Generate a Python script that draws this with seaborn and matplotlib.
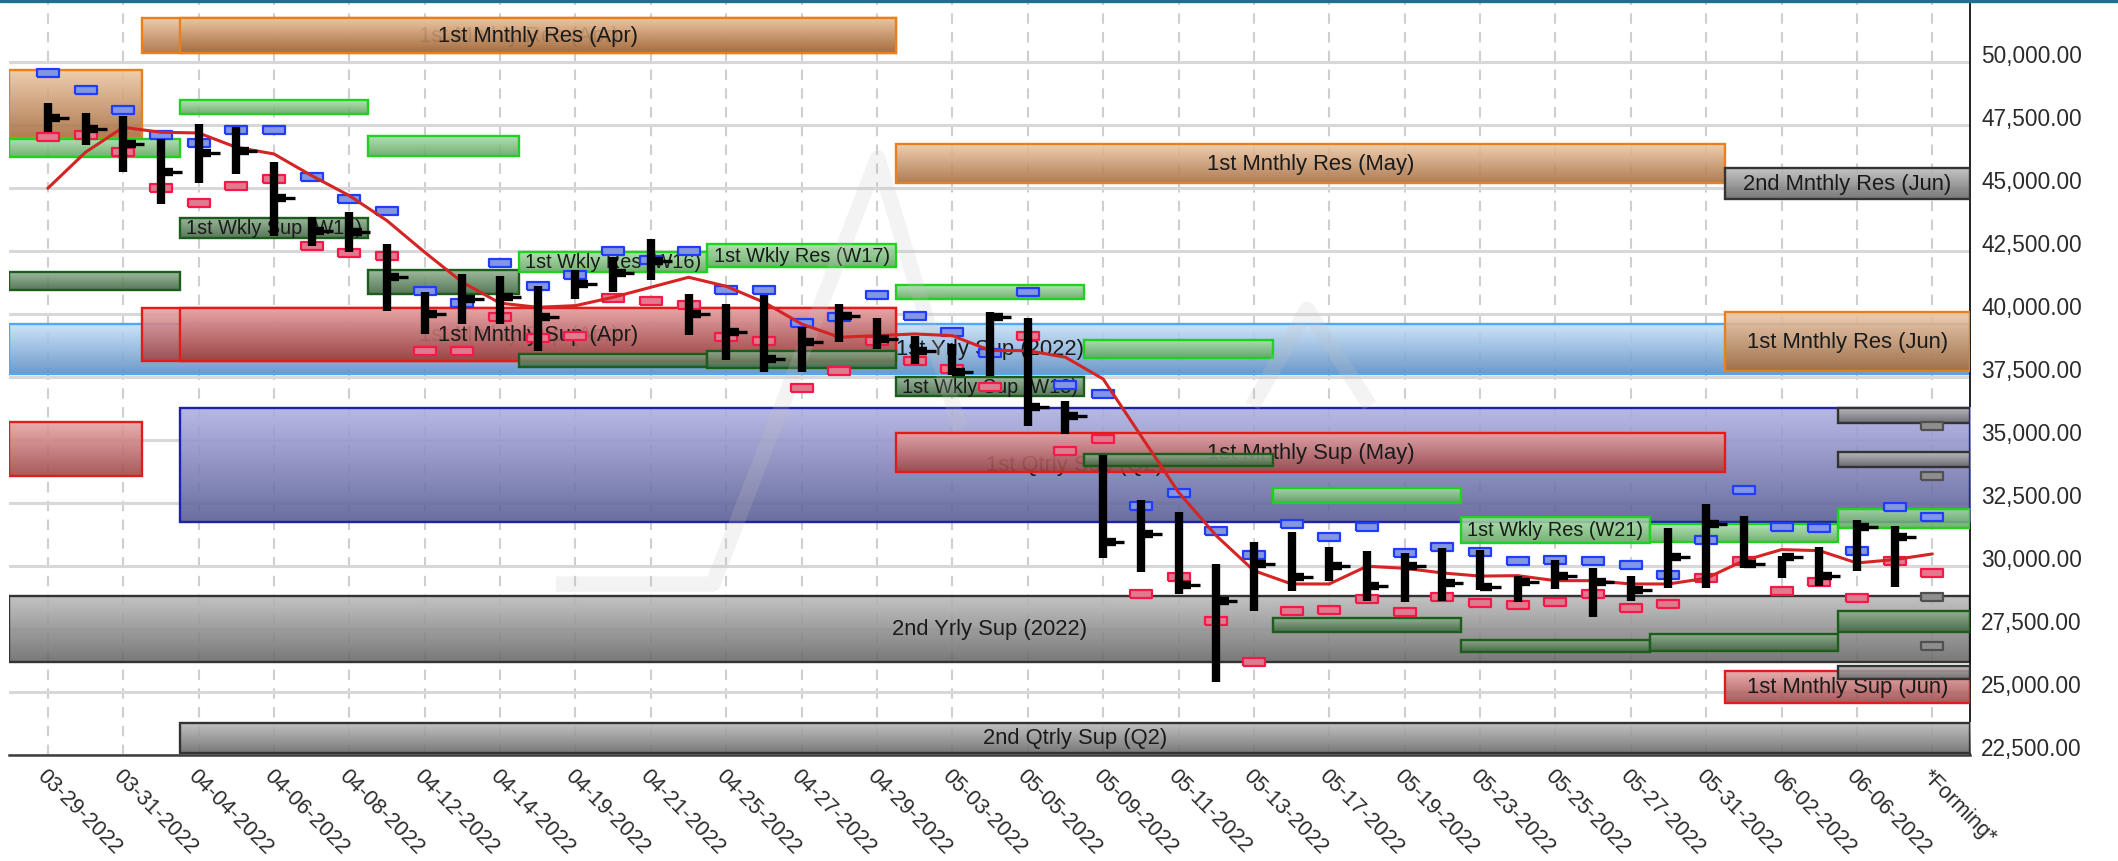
import numpy as np
import pandas as pd
import matplotlib
matplotlib.use("Agg")
import matplotlib.pyplot as plt
import seaborn as sns
from matplotlib.colors import LinearSegmentedColormap
from matplotlib.patches import Rectangle
from matplotlib.lines import Line2D
from matplotlib import font_manager

# ---------------- data ----------------
tick_labels = ["03-29-2022", "03-31-2022", "04-04-2022", "04-06-2022", "04-08-2022",
               "04-12-2022", "04-14-2022", "04-19-2022", "04-21-2022", "04-25-2022",
               "04-27-2022", "04-29-2022", "05-03-2022", "05-05-2022", "05-09-2022",
               "05-11-2022", "05-13-2022", "05-17-2022", "05-19-2022", "05-23-2022",
               "05-25-2022", "05-27-2022", "05-31-2022", "06-02-2022", "06-06-2022",
               "*Forming*"]

bar_high = [48373, 47976, 47870, 46945, 47540, 47408, 46044, 43862, 44060, 42778,
            40862, 41588, 41497, 41100, 41764, 42250, 42963, 40794, 40398, 40755,
            39473, 40398, 39830, 39140, 38810, 40067, 39830, 36561, 34418, 32620,
            32131, 30070, 30966, 31363, 30741, 30609, 30505, 30704, 30651, 29616,
            30254, 29910, 29616, 31496, 32461, 31997, 30413, 30741, 31839, 31576]
bar_low = [47210, 46706, 45647, 44365, 45199, 45556, 43108, 42711, 42449, 40132,
           39207, 39604, 39604, 38545, 40596, 40862, 41350, 39167, 38188, 37687,
           37687, 38902, 38612, 38017, 37580, 37554, 35569, 35239, 30307, 29751,
           28890, 25386, 28229, 29023, 29421, 28626, 28560, 28626, 29062, 28560,
           29089, 27966, 28626, 29115, 29115, 29910, 29515, 29194, 29816, 29155]
bar_close = [47778, 47341, 46746, 45623, 46389, 46481, 44592, 43306, 43266, 41457,
             40001, 40596, 40663, 39870, 41191, 41627, 42116, 40001, 39274, 38215,
             38902, 39909, 39009, 38545, 37687, 39900, 36297, 35966, 30966, 31271,
             29247, 28626, 30070, 29553, 30007, 29223, 30007, 29329, 29157, 29354,
             29616, 29354, 29062, 30346, 31668, 30070, 30346, 29590, 31536, 31139]

proj_high = [49563, 48889, 48095, 47103, 46786, 47314, 47314, 45424, 44564, 44100,
             40926, 40437, 42024, 41100, 41548, 42513, 42143, 42488, 40966, 40966,
             39631, 39870, 40767, 39910, 39300, 38450, 40862, 37183, 36826, 32394,
             32899, 31402, 30439, 31668, 31139, 31536, 30518, 30743, 30545, 30214,
             30254, 30214, 30056, 29646, 31045, 33029, 31536, 31496, 30609, 32330,
             31932]
proj_low = [47036, 47103, 46417, 44988, 44405, 45092, 45357, 42711, 42409, 42290,
            38545, 38545, 39894, 39036, 39140, 40636, 40504, 40358, 39100, 38917,
            37064, 37739, 38942, 38148, 37818, 37091, 39116, 34577, 35041, 28890,
            29553, 27831, 26180, 28229, 28268, 28692, 28163, 28759, 28533, 28454,
            28586, 28890, 28321, 28493, 29515, 30214, 29023, 29381, 28719, 30214,
            29725]
forming_levels = [35556, 33572, 28771, 26827]

moving_avg = [44988, 46417, 47408, 47210, 47183, 46615, 46350, 45490, 44695, 43703,
              42449, 41259, 40430, 40267, 40331, 40663, 41060, 41457, 41100, 40465,
              39604, 39076, 39140, 39207, 39140, 38550, 38545, 38283, 37422, 35173,
              32925, 31204, 29815, 29287, 29287, 29989, 29910, 29724, 29600, 29616,
              29418, 29418, 29287, 29287, 29513, 30214, 30651, 30609, 30120, 30254,
              30478]

# price zones: start / end in bar-index units (None = chart edge), low / high price
zone_start = [None, None, 3.5, 3.5,
              None, None, 2.5, 3.5, 2.5, 3.5, 22.5, 22.5, 44.5, 44.5, 44.5,
              None, None, 3.5, 3.5, 8.5, 8.5, 12.5, 12.5, 17.5, 17.5, 22.5, 22.5,
              27.5, 27.5, 32.5, 32.5, 37.5, 37.5, 42.5, 42.5, 47.5, 47.5,
              47.5, 47.5, 47.5]
zone_end = [None, None, None, None,
            2.5, 2.5, 22.5, 22.5, 22.5, 22.5, 44.5, 44.5, None, None, None,
            3.5, 3.5, 8.5, 8.5, 12.5, 12.5, 17.5, 17.5, 22.5, 22.5, 27.5, 27.5,
            32.5, 32.5, 37.5, 37.5, 42.5, 42.5, 47.5, 47.5, None, None,
            None, None, None]
zone_low = [37620, 26192, 31747, 22580,
            46984, 33572, 50357, 50357, 38136, 38136, 45199, 33731, 44564, 37739, 24565,
            46230, 40953, 47937, 43016, 46270, 40794, 41667, 37897, 41865, 37858, 40596, 36747,
            38255, 33969, 32501, 27382, 30914, 26580, 30954, 26628, 31509, 27382,
            35675, 33930, 25516]
zone_high = [39604, 28811, 36271, 23771,
             49694, 35715, 51746, 51746, 40239, 40239, 46746, 35279, 45794, 40080, 25835,
             46945, 41667, 48492, 43810, 47064, 41746, 42461, 38413, 42778, 38532, 41151, 37501,
             38969, 34445, 33096, 27937, 31945, 27065, 31667, 27302, 32263, 28215,
             36271, 34525, 26033]
zone_kind = ["yrly", "gray", "qtr", "gray",
             "mres", "msup", "mres", "mres", "msup", "msup", "mres", "msup", "gray", "mres", "msup",
             "wres", "wsup", "wres", "wsup", "wres", "wsup", "wres", "wsup", "wres", "wsup", "wres", "wsup",
             "wres", "wsup", "wres", "wsup", "wres", "wsup", "wres", "wsup", "wres", "wsup",
             "gray", "gray", "gray"]
zone_label = ["1st Yrly Sup (2022)", "2nd Yrly Sup (2022)", "1st Qtrly Sup (Q2)", "2nd Qtrly Sup (Q2)",
              "", "", "1st Mnthly Res (Apr)", "1st Mnthly Res (Apr)", "1st Mnthly Sup (Apr)",
              "1st Mnthly Sup (Apr)", "1st Mnthly Res (May)", "1st Mnthly Sup (May)",
              "2nd Mnthly Res (Jun)", "1st Mnthly Res (Jun)", "1st Mnthly Sup (Jun)",
              "", "", "", "1st Wkly Sup (W14)", "", "", "1st Wkly Res (W16)", "",
              "1st Wkly Res (W17)", "", "", "1st Wkly Sup (W18)", "", "", "", "",
              "1st Wkly Res (W21)", "", "", "", "", "",
              "", "", ""]

y_ticks = [22500, 25000, 27500, 30000, 32500, 35000, 37500, 40000, 42500, 45000, 47500, 50000]

# ---------------- style ----------------
sns.set_theme(style="white")
fams = {f.name for f in font_manager.fontManager.ttflist}
base_font = "Liberation Sans" if "Liberation Sans" in fams else "DejaVu Sans"
plt.rcParams["font.family"] = [base_font, "DejaVu Sans"]

STYLE = {
    "yrly": ("#c6e0f8", "#5a8cc2", "#4fa8f5"),
    "gray": ("#bcbcbc", "#666666", "#333333"),
    "qtr":  ("#aeb0e2", "#565a92", "#1e22a8"),
    "mres": ("#eec8a4", "#a46a3c", "#e8801e"),
    "msup": ("#e8a4a4", "#9c4444", "#e41b1b"),
    "wres": ("#aadeaa", "#5fa65f", "#1ed21e"),
    "wsup": ("#90b090", "#3e6640", "#1d5c1d"),
}

XMIN, XMAX = -1.03, 51.0
YMIN, YMAX = 22500, 52380

fig = plt.figure(figsize=(21.18, 8.62), dpi=100)
ax = fig.add_axes([9 / 2118, 106 / 862, 1961 / 2118, 753 / 862])

grad = np.linspace(0, 1, 256).reshape(-1, 1)
z = 2.0
for x0, x1, lo, hi, kind, label in zip(zone_start, zone_end, zone_low, zone_high,
                                        zone_kind, zone_label):
    x0 = XMIN if x0 is None else x0
    x1 = XMAX if x1 is None else x1
    top, bot, edge = STYLE[kind]
    cmap = LinearSegmentedColormap.from_list("g", [top, bot])
    ax.imshow(grad, extent=(x0, x1, lo, hi), origin="upper", aspect="auto",
              cmap=cmap, alpha=0.88, zorder=z, interpolation="bilinear")
    ax.add_patch(Rectangle((x0, lo), x1 - x0, hi - lo, fill=False, ec=edge,
                           lw=1.7, zorder=z + 0.1))
    if label:
        fs = 14.3 if kind.startswith("w") else 15.8
        ax.text((x0 + x1) / 2, (lo + hi) / 2, label, ha="center", va="center",
                fontsize=fs, color="#1a1a1a", zorder=z + 0.2)
    z += 0.3

# faint watermark logo (decoration, axes fraction coordinates)
wm = dict(transform=ax.transAxes, color="#c4c4c4", alpha=0.2, lw=11,
          solid_capstyle="butt", zorder=30)
ax.plot([0.279, 0.359, 0.443, 0.485], [0.227, 0.227, 0.793, 0.433], **wm)
ax.plot([0.634, 0.662, 0.694], [0.4635, 0.592, 0.4635], **wm)

# OHLC-style bars
xb = np.arange(len(bar_high))
xall = np.arange(len(proj_high))
ax.vlines(xb, bar_low, bar_high, color="black", lw=6, zorder=50)
ax.hlines(bar_close, xb, xb + 0.33, color="black", lw=6, zorder=50)
ax.hlines(bar_close, xb, xb + 0.56, color="black", lw=2.4, zorder=50)

# projected high / low markers
rect = [(-1, -0.36), (1, -0.36), (1, 0.36), (-1, 0.36), (-1, -0.36)]
sns.scatterplot(x=xall, y=proj_high, marker=rect, s=230, color="#8296e2",
                edgecolor="#1f3cff", linewidth=1.6, zorder=40, ax=ax, legend=False)
sns.scatterplot(x=xall, y=proj_low, marker=rect, s=230, color="#e07a8e",
                edgecolor="#f5194a", linewidth=1.6, zorder=40, ax=ax, legend=False)
sns.scatterplot(x=[len(proj_high) - 1] * len(forming_levels), y=forming_levels,
                marker=rect, s=230, color="#8e8e8e", edgecolor="#505050",
                linewidth=1.6, zorder=40, ax=ax, legend=False)

# moving average
sns.lineplot(x=xall, y=moving_avg, color="#d42424", lw=2.2, zorder=45, ax=ax)

# axes, grid, ticks
ax.set_xlim(XMIN, XMAX)
ax.set_ylim(YMIN, YMAX)
ax.set_axisbelow(True)
ax.grid(axis="y", color="#d8d8d8", lw=2.2)
ax.grid(axis="x", color="#cfcfcf", lw=1.5, ls=(0, (5, 4)))

ax.set_xticks(range(0, 2 * len(tick_labels), 2))
ax.set_xticklabels(tick_labels, rotation=-45, ha="left", va="top",
                   rotation_mode="anchor", fontsize=15.5, color="#2b2b2b")
ax.tick_params(axis="x", length=0, pad=7)

ax.yaxis.tick_right()
ax.set_yticks(y_ticks)
ax.set_yticklabels([f"{v:,.2f}" for v in y_ticks], va="baseline",
                   fontsize=16.3, color="#2b2b2b")
ax.tick_params(axis="y", length=0, pad=8)

for s in ("left", "top"):
    ax.spines[s].set_visible(False)
ax.spines["right"].set_color("#111111")
ax.spines["right"].set_linewidth(1.3)
ax.spines["bottom"].set_color("#3c3c3c")
ax.spines["bottom"].set_linewidth(1.8)
ax.set_xlabel("")
ax.set_ylabel("")

fig.add_artist(Line2D([0, 1], [1 - 1.5 / 862] * 2, transform=fig.transFigure,
                      color="#1f6f8f", lw=2.4))

fig.savefig("out.png", dpi=100, facecolor="white")
